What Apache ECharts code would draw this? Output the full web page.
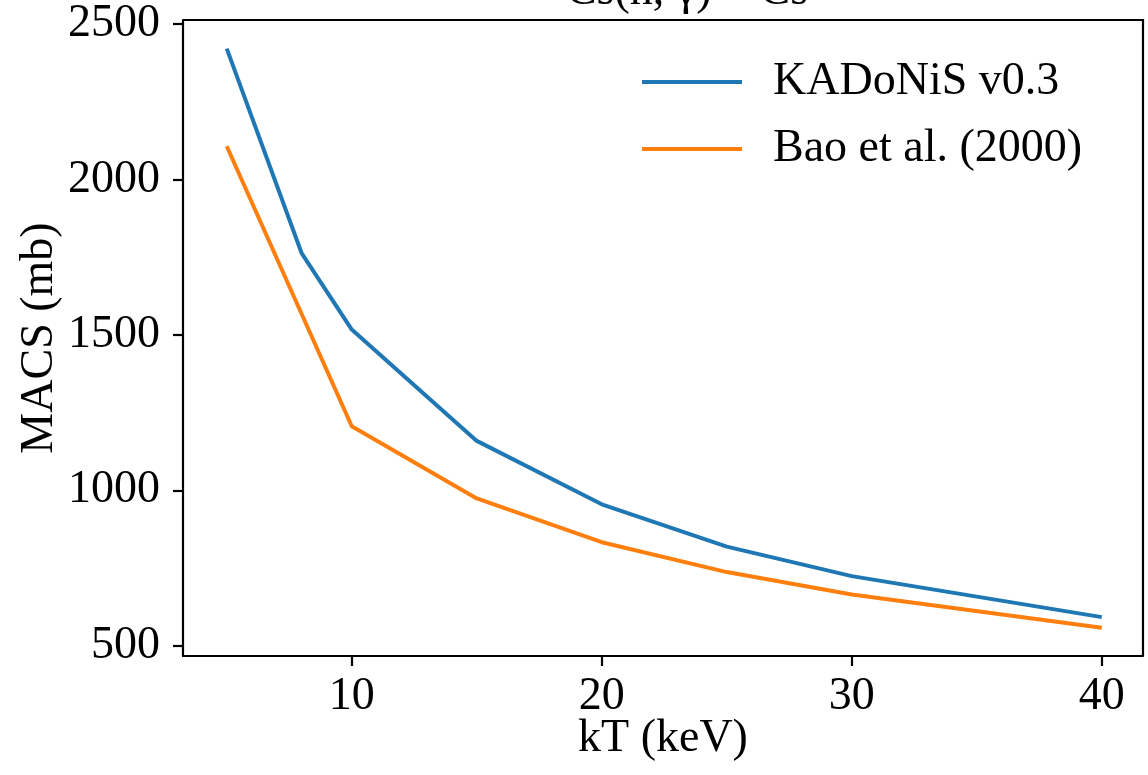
<!DOCTYPE html>
<html>
<head>
<meta charset="utf-8">
<title>MACS 133Cs(n,γ)134Cs</title>
<script src="https://cdn.jsdelivr.net/npm/echarts@6/dist/echarts.min.js"></script>
<style>
  html, body { margin: 0; padding: 0; background: #ffffff; }
  #chart { width: 1148px; height: 775px; }
</style>
</head>
<body>
<div id="chart"></div>
<script>
// Maxwellian-averaged cross sections (mb) versus thermal energy kT (keV)
const kadonisKT = [5, 8, 10, 15, 20, 25, 30, 40];
const kadonisMACS = [2421, 1762, 1517, 1159, 955, 819, 724, 592];
const baoKT = [5, 10, 15, 20, 25, 30, 40];
const baoMACS = [2107, 1206, 974, 833, 737, 665, 558];
const xTicks = [10, 20, 30, 40];
const yTicks = [500, 1000, 1500, 2000, 2500];
const seriesNames = ['KADoNiS v0.3', 'Bao et al. (2000)'];

const FONT = '"Liberation Serif", "DejaVu Serif", serif';
const FS = 46;
const INK = '#000000';

const pairs = (xs, ys) => xs.map((x, i) => [x, ys[i]]);

const chart = echarts.init(document.getElementById('chart'), null, { renderer: 'canvas' });

chart.setOption({
  backgroundColor: '#ffffff',
  animation: false,
  textStyle: { fontFamily: FONT },
  grid: { left: 183, right: 5, top: 20, bottom: 119, containLabel: false, outerBoundsMode: 'none' },
  graphic: [
    {
      type: 'text',
      x: 663,
      y: 15,
      silent: true,
      style: {
        text: '{sup|133}Cs(n, γ){sup|134}Cs',
        textAlign: 'center',
        textVerticalAlign: 'bottom',
        fontFamily: FONT,
        fontSize: FS,
        fill: INK,
        rich: {
          sup: { fontFamily: FONT, fontSize: 32, fill: INK, verticalAlign: 'top' }
        }
      }
    },
    {
      // frame on the top and right sides of the plotting area
      type: 'polyline',
      silent: true,
      shape: { points: [[183, 20], [1143, 20], [1143, 656]] },
      style: { stroke: INK, lineWidth: 2.2, fill: null }
    }
  ],
  legend: {
    orient: 'vertical',
    left: 637,
    top: 54,
    itemWidth: 100,
    itemHeight: 4,
    itemGap: 21,
    icon: 'rect',
    selectedMode: false,
    textStyle: { fontFamily: FONT, fontSize: FS, color: INK, padding: [0, 0, 0, 26] },
    data: seriesNames
  },
  xAxis: {
    type: 'value',
    min: 3.25,
    max: 41.65,
    name: 'kT (keV)',
    nameLocation: 'middle',
    nameGap: 60,
    nameMoveOverlap: false,
    nameTextStyle: { fontFamily: FONT, fontSize: FS, color: INK },
    axisLine: { show: true, onZero: false, lineStyle: { color: INK, width: 2.2 } },
    axisTick: { show: true, length: 10, lineStyle: { color: INK, width: 2.2 }, customValues: xTicks },
    axisLabel: { fontFamily: FONT, fontSize: FS, color: INK, margin: 18, customValues: xTicks,
      formatter: (v) => String(v) },
    splitLine: { show: false }
  },
  yAxis: {
    type: 'value',
    min: 467,
    max: 2513,
    name: 'MACS (mb)',
    nameLocation: 'middle',
    nameRotate: 90,
    nameGap: 120,
    nameMoveOverlap: false,
    nameTextStyle: { fontFamily: FONT, fontSize: FS, color: INK },
    axisLine: { show: true, onZero: false, lineStyle: { color: INK, width: 2.2 } },
    axisTick: { show: true, length: 10, lineStyle: { color: INK, width: 2.2 }, customValues: yTicks },
    axisLabel: { fontFamily: FONT, fontSize: FS, color: INK, margin: 23, customValues: yTicks,
      formatter: (v) => String(v) },
    splitLine: { show: false }
  },
  series: [
    {
      name: seriesNames[0],
      type: 'line',
      data: pairs(kadonisKT, kadonisMACS),
      showSymbol: false,
      symbol: 'none',
      color: '#1f77b4',
      lineStyle: { color: '#1f77b4', width: 4, cap: 'butt', join: 'round' }
    },
    {
      name: seriesNames[1],
      type: 'line',
      data: pairs(baoKT, baoMACS),
      showSymbol: false,
      symbol: 'none',
      color: '#ff7f0e',
      lineStyle: { color: '#ff7f0e', width: 4, cap: 'butt', join: 'round' }
    }
  ]
});
</script>
</body>
</html>
